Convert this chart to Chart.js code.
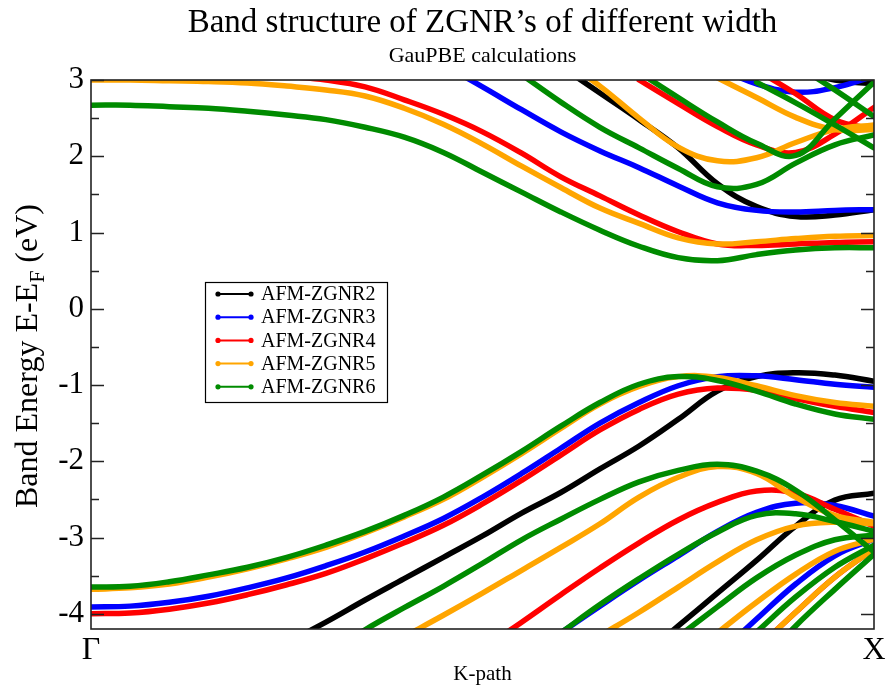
<!DOCTYPE html>
<html>
<head>
<meta charset="utf-8">
<script src="https://cdn.jsdelivr.net/npm/chart.js@4.4.1/dist/chart.umd.min.js"></script>
<style>
  html, body { margin: 0; padding: 0; background: #ffffff; }
  canvas { display: block; }
</style>
</head>
<body>
<canvas id="bands" width="889" height="692"></canvas>
<script>
// k-path sampling from Gamma (0) to X (1)
const kGrid = [0, 0.05, 0.1, 0.15, 0.2, 0.25, 0.3, 0.35, 0.4, 0.45, 0.5,
               0.55, 0.6, 0.65, 0.7, 0.75, 0.8, 0.85, 0.9, 0.95, 1];
const n = null;

// Band energies (eV, relative to E_F) on kGrid, one array per band
const zgnr2Bands = [
  [n,n,n,n,n,n,n,n,n,n,n, n, 3.18, 2.83, 2.48, 2.11, 1.64, 1.34, 1.21, 1.23, 1.30],
  [n,n,n,n,n,n,n,n,n,n,n, n, n, n, n, n, n, n, 3.13, 3.00, 2.95],
  [n,n,n,n,n,-4.38,-4.11,-3.82,-3.54,-3.26,-2.98,-2.68,-2.41,-2.10,-1.80,-1.45,-1.08,-0.89,-0.84,-0.87,-0.95],
  [n,n,n,n,n,n,n,n,n,n,n, n, n, n, -4.59,-4.16,-3.73,-3.30,-2.85,-2.51,-2.42]
];
const zgnr3Bands = [
  [n,n,n,n,n,n,n,n,n, 3.20, 2.91, 2.61, 2.32, 2.07, 1.85, 1.61, 1.39, 1.29, 1.27, 1.29, 1.30],
  [n,n,n,n,n,n,n,n,n,n,n, n, n, n, n, n, 3.16, 2.95, 2.84, 2.90, 3.05],
  [-3.91,-3.90,-3.85,-3.77,-3.66,-3.53,-3.37,-3.19,-2.98,-2.75,-2.47,-2.16,-1.83,-1.50,-1.23,-1.01,-0.89,-0.88,-0.93,-0.99,-1.03],
  [n,n,n,n,n,n,n,n,n,n,n, n, -4.25,-3.90,-3.56,-3.24,-2.92,-2.67,-2.55,-2.58,-2.72],
  [n,n,n,n,n,n,n,n,n,n,n, n, n, n, n, n, -4.54,-4.07,-3.61,-3.24,-3.02]
];
const zgnr4Bands = [
  [n,n,n,n,n, 3.05, 3.00, 2.91, 2.74, 2.55, 2.32, 2.04, 1.73, 1.48, 1.23, 1.01, 0.85, 0.83, 0.85, 0.87, 0.88],
  [n,n,n,n,n,n,n,n,n,n,n, n, n, n, 3.00, 2.69, 2.39, 2.15, 2.05, 2.29, 2.64],
  [n,n,n,n,n,n,n,n,n,n,n, n, n, n, n, n, n, 3.13, 2.82, 2.48, 2.35],
  [-4.00,-3.99,-3.94,-3.86,-3.75,-3.62,-3.47,-3.28,-3.07,-2.84,-2.56,-2.25,-1.92,-1.59,-1.32,-1.12,-1.04,-1.07,-1.18,-1.28,-1.36],
  [n,n,n,n,n,n,n,n,n,n, -4.46,-4.11,-3.75,-3.40,-3.07,-2.77,-2.54,-2.39,-2.42,-2.63,-2.85],
  [n,n,n,n,n,n,n,n,n,n,n, n, n, n, n, n, n, -4.46,-3.98,-3.52,-3.15]
];
const zgnr5Bands = [
  [3.00, 3.00, 2.99, 2.98, 2.96, 2.92, 2.87, 2.79, 2.63, 2.42, 2.16, 1.87, 1.59, 1.32, 1.12, 0.93, 0.85, 0.88, 0.92, 0.95, 0.96],
  [n,n,n,n,n,n,n,n,n,n,n, n, 3.28, 2.92, 2.50, 2.12, 1.94, 1.98, 2.18, 2.35, 2.41],
  [n,n,n,n,n,n,n,n,n,n,n, n, n, n, n, 3.30, 3.03, 2.77, 2.51, 2.35, 2.35],
  [-3.68,-3.66,-3.61,-3.52,-3.41,-3.28,-3.13,-2.94,-2.73,-2.50,-2.21,-1.90,-1.57,-1.25,-1.02,-0.89,-0.90,-1.01,-1.14,-1.23,-1.28],
  [n,n,n,n,n,n,n,n, -4.30,-4.02,-3.73,-3.43,-3.13,-2.82,-2.47,-2.21,-2.07,-2.16,-2.47,-2.71,-2.80],
  [n,n,n,n,n,n,n,n,n,n,n, n, n, -4.29,-3.98,-3.65,-3.32,-3.03,-2.85,-2.80,-2.82],
  [n,n,n,n,n,n,n,n,n,n,n, n, n, n, n, n, -4.25,-3.85,-3.48,-3.18,-3.02],
  [n,n,n,n,n,n,n,n,n,n,n, n, n, n, n, n, n, -4.46,-3.98,-3.52,-3.15]
];
const zgnr6Bands = [
  [2.67, 2.67, 2.65, 2.63, 2.59, 2.54, 2.48, 2.38, 2.25, 2.05, 1.79, 1.53, 1.27, 1.03, 0.82, 0.67, 0.63, 0.71, 0.77, 0.80, 0.80],
  [n,n,n,n,n,n,n,n,n,n,n, 3.07, 2.71, 2.38, 2.11, 1.84, 1.60, 1.63, 1.91, 2.15, 2.28],
  [n,n,n,n,n,n,n,n,n,n,n, n, n, n, 3.10, 2.77, 2.45, 2.17, 2.01, 2.49, 2.97],
  [n,n,n,n,n,n,n,n,n,n,n, n, n, n, n, n, n, 2.97, 2.70, 2.41, 2.11],
  [n,n,n,n,n,n,n,n,n,n,n, n, n, n, n, n, n, n, 3.20, 2.87, 2.52],
  [-3.65,-3.64,-3.58,-3.49,-3.39,-3.26,-3.10,-2.92,-2.71,-2.47,-2.18,-1.87,-1.54,-1.23,-0.99,-0.89,-0.94,-1.08,-1.25,-1.38,-1.45],
  [n,n,n,n,n,n, -4.53,-4.21,-3.92,-3.64,-3.34,-3.03,-2.76,-2.50,-2.27,-2.12,-2.04,-2.13,-2.38,-2.77,-3.19],
  [n,n,n,n,n,n,n,n,n,n,n, n, -4.25,-3.88,-3.54,-3.22,-2.93,-2.71,-2.69,-2.79,-2.92],
  [n,n,n,n,n,n,n,n,n,n,n, n, n, n, n, -4.30,-3.91,-3.53,-3.23,-3.03,-2.97],
  [n,n,n,n,n,n,n,n,n,n,n, n, n, n, n, n, n, -4.24,-3.78,-3.39,-3.10],
  [n,n,n,n,n,n,n,n,n,n,n, n, n, n, n, n, n, -4.70,-4.16,-3.68,-3.22]
];

const seriesNames = ['AFM-ZGNR2', 'AFM-ZGNR3', 'AFM-ZGNR4', 'AFM-ZGNR5', 'AFM-ZGNR6'];
const seriesColors = ['#000000', '#0000ff', '#ff0000', '#ffa500', '#008b00'];
const seriesBands = [zgnr2Bands, zgnr3Bands, zgnr4Bands, zgnr5Bands, zgnr6Bands];

const chartTitle = 'Band structure of ZGNR’s of different width';
const chartSubtitle = 'GauPBE calculations';
const kTickLabels = { 0: 'Γ', 1: 'X' };
const energyTicks = [-4, -3, -2, -1, 0, 1, 2, 3];
const energyMinorTicks = [-3.5, -2.5, -1.5, -0.5, 0.5, 1.5, 2.5];
const energyRange = [-4.2, 3];

const SERIF = "'Liberation Serif', 'DejaVu Serif', serif";

// one dataset per band; wider series are drawn last (lower order = on top)
const datasets = [];
seriesBands.forEach((bands, s) => {
  bands.forEach(band => {
    datasets.push({
      label: seriesNames[s],
      data: band.map((e, i) => ({ x: kGrid[i], y: e })),
      borderColor: seriesColors[s],
      backgroundColor: seriesColors[s],
      borderWidth: 5.5,
      pointRadius: 0,
      borderCapStyle: 'round',
      borderJoinStyle: 'round',
      tension: 0.4,
      capBezierPoints: false,
      spanGaps: false,
      order: 5 - s
    });
  });
});

// titles, frame, inward ticks, rotated y title with subscript, legend box
const decorations = {
  id: 'decorations',
  beforeDraw(chart) {
    const { ctx, chartArea: a } = chart;
    const cx = (a.left + a.right) / 2;
    ctx.save();
    ctx.fillStyle = '#000';
    ctx.textAlign = 'center';
    ctx.textBaseline = 'alphabetic';
    ctx.font = '33px ' + SERIF;
    ctx.fillText(chartTitle, cx, 32);
    ctx.font = '22px ' + SERIF;
    ctx.fillText(chartSubtitle, cx, 62);
    ctx.restore();
  },
  afterDatasetsDraw(chart) {
    const { ctx, chartArea: a, scales } = chart;
    const y = scales.y;
    ctx.save();
    ctx.strokeStyle = '#222';
    ctx.lineWidth = 1.6;
    ctx.strokeRect(a.left, a.top, a.right - a.left, a.bottom - a.top);
    ctx.beginPath();
    energyTicks.forEach(v => {
      const py = Math.round(y.getPixelForValue(v)) + 0.5;
      ctx.moveTo(a.left, py); ctx.lineTo(a.left + 13, py);
      ctx.moveTo(a.right, py); ctx.lineTo(a.right - 13, py);
    });
    energyMinorTicks.forEach(v => {
      const py = Math.round(y.getPixelForValue(v)) + 0.5;
      ctx.moveTo(a.left, py); ctx.lineTo(a.left + 8, py);
      ctx.moveTo(a.right, py); ctx.lineTo(a.right - 8, py);
    });
    ctx.stroke();

    // legend
    const lx = 205, ly = 282, lw = 182, lh = 120, row = 23.2;
    ctx.fillStyle = '#fff';
    ctx.fillRect(lx, ly, lw, lh);
    ctx.strokeStyle = '#000';
    ctx.lineWidth = 1.2;
    ctx.strokeRect(lx + 0.5, ly + 0.5, lw, lh);
    ctx.font = '20px ' + SERIF;
    ctx.textBaseline = 'middle';
    ctx.textAlign = 'left';
    seriesNames.forEach((name, i) => {
      const cy = ly + 12 + i * row;
      ctx.strokeStyle = seriesColors[i];
      ctx.fillStyle = seriesColors[i];
      ctx.lineWidth = 2;
      ctx.beginPath(); ctx.moveTo(218, cy); ctx.lineTo(251, cy); ctx.stroke();
      [218, 251].forEach(px => { ctx.beginPath(); ctx.arc(px, cy, 2.6, 0, Math.PI * 2); ctx.fill(); });
      ctx.fillStyle = '#000';
      ctx.fillText(name, 261, cy + 1);
    });
    ctx.restore();
  },
  afterDraw(chart) {
    const { ctx } = chart;
    ctx.save();
    ctx.translate(29, 356);
    ctx.rotate(-Math.PI / 2);
    ctx.fillStyle = '#000';
    ctx.textBaseline = 'middle';
    const big = '32px ' + SERIF, small = '22px ' + SERIF;
    const p1 = 'Band Energy E-E', p2 = 'F', p3 = ' (eV)';
    ctx.font = big; const w1 = ctx.measureText(p1).width, w3 = ctx.measureText(p3).width;
    ctx.font = small; const w2 = ctx.measureText(p2).width;
    const x0 = -(w1 + w2 + w3) / 2;
    ctx.font = big; ctx.fillText(p1, x0, 0);
    ctx.font = small; ctx.fillText(p2, x0 + w1, 9);
    ctx.font = big; ctx.fillText(p3, x0 + w1 + w2, 0);
    ctx.restore();
  }
};

new Chart(document.getElementById('bands'), {
  type: 'line',
  data: { datasets },
  plugins: [decorations],
  options: {
    responsive: false,
    animation: false,
    events: [],
    layout: { padding: { left: 0, right: 15, top: 80, bottom: 0 } },
    plugins: {
      legend: { display: false },
      tooltip: { enabled: false }
    },
    scales: {
      x: {
        type: 'linear',
        min: 0, max: 1,
        afterBuildTicks: s => { s.ticks = [{ value: 0 }, { value: 1 }]; },
        afterFit: s => { s.height = 63; },
        ticks: {
          color: '#000',
          font: { family: SERIF, size: 32 },
          padding: 2,
          maxRotation: 0,
          callback: v => kTickLabels[v] ?? ''
        },
        grid: { display: false, drawTicks: false },
        border: { display: false },
        title: {
          display: true,
          text: 'K-path',
          color: '#000',
          font: { family: SERIF, size: 21 },
          padding: { top: 0, bottom: 5 }
        }
      },
      y: {
        type: 'linear',
        min: energyRange[0], max: energyRange[1],
        afterBuildTicks: s => { s.ticks = energyTicks.map(v => ({ value: v })); },
        afterFit: s => { s.width = 91; },
        ticks: {
          color: '#000',
          font: { family: SERIF, size: 31 },
          padding: 7
        },
        grid: { display: false, drawTicks: false },
        border: { display: false }
      }
    }
  }
});
</script>
</body>
</html>
